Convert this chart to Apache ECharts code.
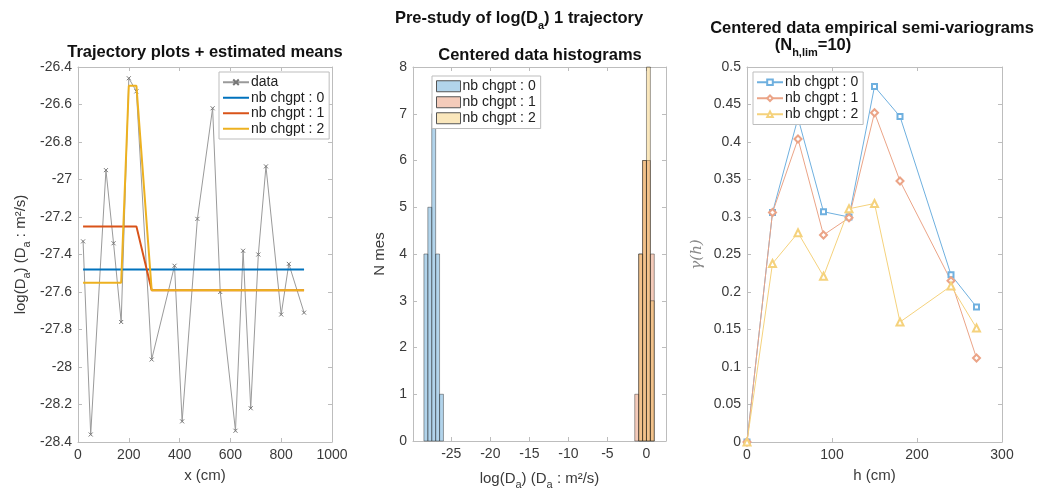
<!DOCTYPE html>
<html>
<head>
<meta charset="utf-8">
<script src="https://cdn.jsdelivr.net/npm/echarts@6/dist/echarts.min.js"></script>
<style>
html,body{margin:0;padding:0;background:#fff;}
#c{width:1041px;height:495px;}
</style>
</head>
<body>
<div id="c"></div>
<script>
// ---------- DATA ----------
const xPos = [20, 50, 110, 140, 170, 200, 230, 290, 380, 410, 470, 530, 560, 620, 650, 680, 710, 740, 800, 830, 890];
const logD = [-27.33, -28.36, -26.95, -27.34, -27.76, -26.46, -26.53, -27.96, -27.46, -28.29, -27.21, -26.62, -27.60, -28.34, -27.38, -28.22, -27.40, -26.93, -27.72, -27.45, -27.71];
const mean0 = [-27.48, -27.48, -27.48, -27.48, -27.48, -27.48, -27.48, -27.48, -27.48, -27.48, -27.48, -27.48, -27.48, -27.48, -27.48, -27.48, -27.48, -27.48, -27.48, -27.48, -27.48];
const mean1 = [-27.25, -27.25, -27.25, -27.25, -27.25, -27.25, -27.25, -27.59, -27.59, -27.59, -27.59, -27.59, -27.59, -27.59, -27.59, -27.59, -27.59, -27.59, -27.59, -27.59, -27.59];
const mean2 = [-27.55, -27.55, -27.55, -27.55, -27.55, -26.50, -26.50, -27.59, -27.59, -27.59, -27.59, -27.59, -27.59, -27.59, -27.59, -27.59, -27.59, -27.59, -27.59, -27.59, -27.59];

const histEdges0 = [-28.5, -28, -27.5, -27, -26.5, -26];
const histCounts0 = [4, 5, 7, 4, 1];
const histEdges12 = [-1.5, -1, -0.5, 0, 0.5, 1];
const histCounts1 = [1, 4, 6, 6, 4];
const histCounts2 = [0, 4, 6, 8, 3];

const lagH = [0, 30, 60, 90, 120, 150, 180, 240, 270];
const gamma0 = [0, 0.306, 0.432, 0.307, 0.300, 0.474, 0.434, 0.223, 0.180];
const gamma1 = [0, 0.306, 0.404, 0.276, 0.299, 0.439, 0.348, 0.215, 0.112];
const gamma2 = [0, 0.238, 0.279, 0.221, 0.311, 0.318, 0.160, 0.208, 0.152];

const histTicks = [-25, -20, -15, -10, -5, 0];

// ---------- STYLE ----------
const FONT = 'Liberation Sans, Arial, Helvetica, sans-serif';
const C0 = '#0072BD', C1 = '#D95319', C2 = '#EDB120';
const FRAME = '#bdbdbd';
const LBL = '#3a3a3a';
const TFS = 16.5;

const pairs = (xs, ys) => xs.map((x, i) => [x, ys[i]]);
const bins = (edges, counts) => counts.map((c, i) => [edges[i], edges[i + 1], c]).filter(d => d[2] > 0);

const chart = echarts.init(document.getElementById('c'), null, {renderer: 'canvas'});

const grids = [
  {left: 78, top: 67, width: 254, height: 375},
  {left: 413, top: 67, width: 253, height: 375},
  {left: 747, top: 67, width: 255, height: 375}
];

function frameAxis(extra) {
  return Object.assign({
    type: 'value',
    axisLine: {show: true, onZero: false, lineStyle: {color: FRAME, width: 1}},
    axisTick: {show: true, inside: true, length: 4, lineStyle: {color: FRAME}},
    splitLine: {show: false},
    axisLabel: {show: true, color: LBL, fontFamily: FONT, fontSize: 14, margin: 6, formatter: v => String(v)}
  }, extra);
}
const noLabel = {show: false};

const lineIcon = 'path://M0,0L26,0L26,2L0,2Z';
const xmark = 'path://M0,0L10,10M10,0L0,10';

const nameRich = {
  n: {fontFamily: FONT, fontSize: 15, color: LBL, lineHeight: 17, verticalAlign: 'top'},
  s: {fontFamily: FONT, fontSize: 11, color: LBL, lineHeight: 11, padding: [10, 0, 0, 0]}
};
const titleRich = {
  b: {fontFamily: FONT, fontWeight: 'bold', fontSize: TFS, fill: '#111', lineHeight: 19, verticalAlign: 'top'},
  bs: {fontFamily: FONT, fontWeight: 'bold', fontSize: 11, fill: '#111', lineHeight: 11, padding: [12, 0, 0, 0]}
};
const legendText = {fontFamily: FONT, fontSize: 14, color: '#222', lineHeight: 14.5, padding: [0, 0, 0, -3]};

const option = {
  animation: false,
  backgroundColor: '#fff',
  grid: grids,
  xAxis: [
    frameAxis({gridIndex: 0, position: 'bottom', min: 0, max: 1000, interval: 200,
      name: 'x (cm)', nameLocation: 'middle', nameGap: 26,
      nameTextStyle: {fontFamily: FONT, fontSize: 15, color: LBL}}),
    frameAxis({gridIndex: 0, position: 'top', min: 0, max: 1000, interval: 200, axisLabel: noLabel}),
    frameAxis({gridIndex: 1, position: 'bottom', min: -29.9, max: 2.5,
      axisTick: {show: true, inside: true, length: 4, lineStyle: {color: FRAME}, customValues: histTicks},
      axisLabel: {show: true, color: LBL, fontFamily: FONT, fontSize: 14, margin: 6, customValues: histTicks},
      name: '{n|log(D}{s|a}{n|) (D}{s|a}{n| : m²/s)}', nameLocation: 'middle', nameGap: 30,
      nameTextStyle: {rich: nameRich}}),
    frameAxis({gridIndex: 1, position: 'top', min: -29.9, max: 2.5,
      axisTick: {show: true, inside: true, length: 4, lineStyle: {color: FRAME}, customValues: histTicks},
      axisLabel: noLabel}),
    frameAxis({gridIndex: 2, position: 'bottom', min: 0, max: 300, interval: 100,
      name: 'h (cm)', nameLocation: 'middle', nameGap: 26,
      nameTextStyle: {fontFamily: FONT, fontSize: 15, color: LBL}}),
    frameAxis({gridIndex: 2, position: 'top', min: 0, max: 300, interval: 100, axisLabel: noLabel})
  ],
  yAxis: [
    frameAxis({gridIndex: 0, position: 'left', min: -28.4, max: -26.4, interval: 0.2,
      name: '{n|log(D}{s|a}{n|) (D}{s|a}{n| : m²/s)}', nameLocation: 'middle', nameGap: 48,
      nameTextStyle: {rich: nameRich}}),
    frameAxis({gridIndex: 0, position: 'right', min: -28.4, max: -26.4, interval: 0.2, axisLabel: noLabel}),
    frameAxis({gridIndex: 1, position: 'left', min: 0, max: 8, interval: 1,
      name: 'N mes', nameLocation: 'middle', nameGap: 26,
      nameTextStyle: {fontFamily: FONT, fontSize: 15, color: LBL}}),
    frameAxis({gridIndex: 1, position: 'right', min: 0, max: 8, interval: 1, axisLabel: noLabel}),
    frameAxis({gridIndex: 2, position: 'left', min: 0, max: 0.5, interval: 0.05,
      name: 'γ(h)', nameLocation: 'middle', nameGap: 42,
      nameTextStyle: {fontFamily: 'DejaVu Serif, serif', fontStyle: 'italic', fontSize: 15, color: '#888'}}),
    frameAxis({gridIndex: 2, position: 'right', min: 0, max: 0.5, interval: 0.05, axisLabel: noLabel})
  ],
  legend: [
    {
      orient: 'vertical', left: 219, top: 72, padding: [3, 5, 3, 3], itemGap: 1,
      itemWidth: 26, itemHeight: 7,
      backgroundColor: '#fff', borderColor: FRAME, borderWidth: 1, borderRadius: 0,
      textStyle: legendText,
      data: [
        'data',
        {name: 'nb chgpt : 0', icon: lineIcon},
        {name: 'nb chgpt : 1', icon: lineIcon},
        {name: 'nb chgpt : 2', icon: lineIcon}
      ],
      selectedMode: false
    },
    {
      orient: 'vertical', left: 432, top: 76, padding: [3, 5, 3, 4], itemGap: 1.5,
      itemWidth: 24, itemHeight: 11,
      backgroundColor: '#fff', borderColor: FRAME, borderWidth: 1, borderRadius: 0,
      textStyle: legendText,
      formatter: n => n.trim(),
      data: [
        {name: 'nb chgpt : 0 ', icon: 'rect', itemStyle: {color: 'rgba(0,114,189,0.3)', borderColor: '#555', borderWidth: 1}},
        {name: 'nb chgpt : 1 ', icon: 'rect', itemStyle: {color: 'rgba(217,83,25,0.3)', borderColor: '#555', borderWidth: 1}},
        {name: 'nb chgpt : 2 ', icon: 'rect', itemStyle: {color: 'rgba(237,177,32,0.3)', borderColor: '#555', borderWidth: 1}}
      ],
      selectedMode: false
    },
    {
      orient: 'vertical', left: 753, top: 72, padding: [3, 5, 3, 3], itemGap: 1.5,
      itemWidth: 26, itemHeight: 7,
      backgroundColor: '#fff', borderColor: FRAME, borderWidth: 1, borderRadius: 0,
      textStyle: legendText,
      formatter: n => n.trim(),
      data: ['nb chgpt : 0  ', 'nb chgpt : 1  ', 'nb chgpt : 2  '],
      selectedMode: false
    }
  ],
  graphic: [
    {type: 'text', x: 519, y: 10, style: {text: '{b|Pre-study of log(D}{bs|a}{b|) 1 trajectory}', align: 'center', verticalAlign: 'top', rich: titleRich}},
    {type: 'text', x: 205, y: 44, style: {text: 'Trajectory plots + estimated means', align: 'center', verticalAlign: 'top',
      fontFamily: FONT, fontWeight: 'bold', fontSize: TFS, fill: '#111'}},
    {type: 'text', x: 540, y: 47, style: {text: 'Centered data histograms', align: 'center', verticalAlign: 'top',
      fontFamily: FONT, fontWeight: 'bold', fontSize: TFS, fill: '#111'}},
    {type: 'text', x: 872, y: 20, style: {text: 'Centered data empirical semi-variograms', align: 'center', verticalAlign: 'top',
      fontFamily: FONT, fontWeight: 'bold', fontSize: TFS, fill: '#111'}},
    {type: 'text', x: 813, y: 37, style: {text: '{b|(N}{bs|h,lim}{b|=10)}', align: 'center', verticalAlign: 'top', rich: titleRich}}
  ],
  series: [
    // left plot
    {name: 'data', type: 'line', xAxisIndex: 0, yAxisIndex: 0, data: pairs(xPos, logD),
      symbol: xmark, symbolSize: 4, showSymbol: true,
      lineStyle: {color: '#9a9a9a', width: 1},
      itemStyle: {color: 'rgba(0,0,0,0)', borderColor: '#777', borderWidth: 1}, z: 2},
    {name: 'nb chgpt : 0', type: 'line', xAxisIndex: 0, yAxisIndex: 0, data: pairs(xPos, mean0),
      symbol: 'none', lineStyle: {color: C0, width: 2}, itemStyle: {color: C0}, z: 3},
    {name: 'nb chgpt : 1', type: 'line', xAxisIndex: 0, yAxisIndex: 0, data: pairs(xPos, mean1),
      symbol: 'none', lineStyle: {color: C1, width: 2}, itemStyle: {color: C1}, z: 3},
    {name: 'nb chgpt : 2', type: 'line', xAxisIndex: 0, yAxisIndex: 0, data: pairs(xPos, mean2),
      symbol: 'none', lineStyle: {color: C2, width: 2}, itemStyle: {color: C2}, z: 3},
    // histograms
    ...[[histEdges0, histCounts0, 'rgba(0,114,189,0.3)', 'nb chgpt : 0 '],
        [histEdges12, histCounts1, 'rgba(217,83,25,0.3)', 'nb chgpt : 1 '],
        [histEdges12, histCounts2, 'rgba(237,177,32,0.3)', 'nb chgpt : 2 ']].map(([e, c, fill, nm]) => ({
      name: nm, type: 'custom', xAxisIndex: 2, yAxisIndex: 2, data: bins(e, c),
      encode: {x: [0, 1], y: 2}, itemStyle: {color: fill},
      renderItem: function (params, api) {
        const p0 = api.coord([api.value(0), 0]);
        const p1 = api.coord([api.value(1), api.value(2)]);
        return {type: 'rect', shape: {x: p0[0], y: p1[1], width: p1[0] - p0[0], height: p0[1] - p1[1]},
          style: {fill: fill, stroke: 'rgba(40,40,40,0.55)', lineWidth: 0.8}};
      }
    })),
    // semi-variograms
    {name: 'nb chgpt : 0  ', type: 'line', xAxisIndex: 4, yAxisIndex: 4, data: pairs(lagH, gamma0),
      symbol: 'emptyRect', symbolSize: 5, lineStyle: {color: '#6fb0df', width: 1},
      itemStyle: {color: '#6fb0df', borderColor: '#6fb0df', borderWidth: 1}},
    {name: 'nb chgpt : 1  ', type: 'line', xAxisIndex: 4, yAxisIndex: 4, data: pairs(lagH, gamma1),
      symbol: 'emptyDiamond', symbolSize: 7, lineStyle: {color: '#eba487', width: 1},
      itemStyle: {color: '#eba487', borderColor: '#eba487', borderWidth: 1}},
    {name: 'nb chgpt : 2  ', type: 'line', xAxisIndex: 4, yAxisIndex: 4, data: pairs(lagH, gamma2),
      symbol: 'emptyTriangle', symbolSize: 7, lineStyle: {color: '#f5d27c', width: 1},
      itemStyle: {color: '#f5d27c', borderColor: '#f5d27c', borderWidth: 1}}
  ]
};
chart.setOption(option);
</script>
</body>
</html>
